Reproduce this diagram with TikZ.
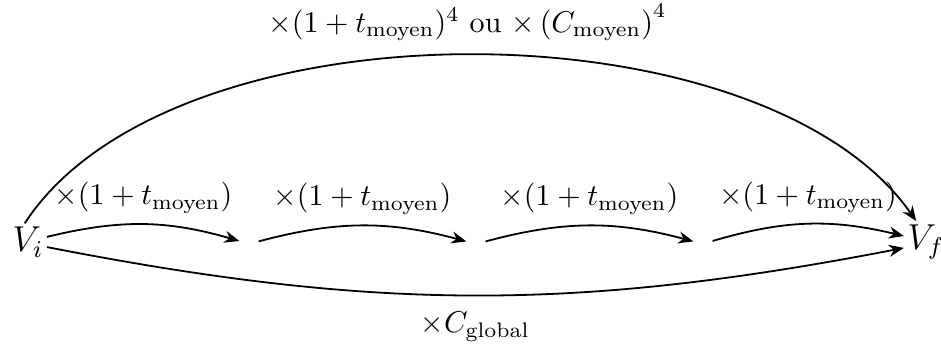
\documentclass[tikz,border=0pt]{standalone}
\usepackage{amsmath}
\usetikzlibrary{arrows.meta}
\tikzset{
  fleche/.style={-{Stealth[length=5pt,width=4pt]}, semithick},
  valeur/.style={inner sep=1pt, font=\large},
  point/.style={inner sep=3pt},
}
\begin{document}
\begin{tikzpicture}[x=0.333pt, y=-0.333pt]
  \useasboundingbox (0,0) rectangle (941,356);
  % valeurs initiale et finale
  \node[valeur] (vi) at (28,242) {$V_i$};
  \node[valeur] (vf) at (926,242) {$V_f$};
  \node[point] (p1) at (249,244) {};
  \node[point] (p2) at (476,244) {};
  \node[point] (p3) at (703,244) {};
  % quatre etapes
  \draw[fleche] (vi.15) to[bend left=15] node[above] {$\times(1+t_{\text{moyen}})$} (p1);
  \draw[fleche] (p1) to[bend left=15] node[above] {$\times(1+t_{\text{moyen}})$} (p2);
  \draw[fleche] (p2) to[bend left=15] node[above] {$\times(1+t_{\text{moyen}})$} (p3);
  \draw[fleche] (p3) to[bend left=15] node[above] {$\times(1+t_{\text{moyen}})$} (vf.165);
  % globaux
  \draw[fleche] (vi.100) to[out=57, in=125, looseness=0.77]
    node[above=1pt] {$\times(1+t_{\text{moyen}})^4$ ou $\times\left(C_{\text{moyen}}\right)^4$} (vf.115);
  \draw[fleche] (vi.-15) to[bend right=11] node[below=2pt] {$\times C_{\text{global}}$} (vf.-165);
\end{tikzpicture}
\end{document}
